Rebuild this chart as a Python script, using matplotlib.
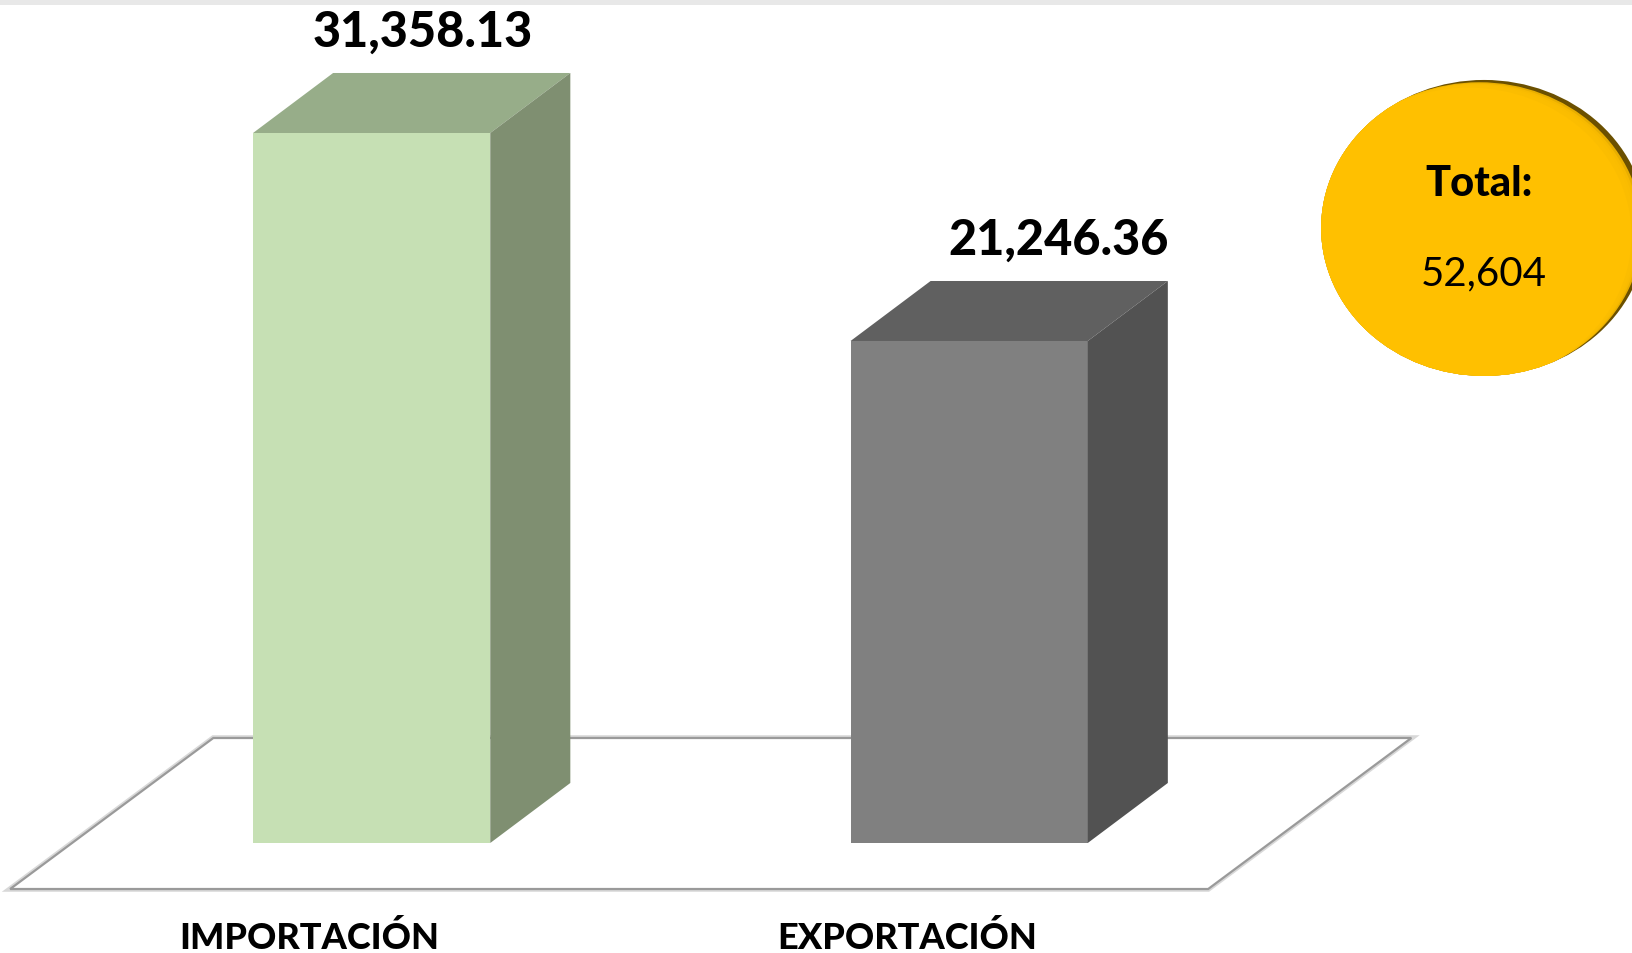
import numpy as np
import matplotlib.pyplot as plt
from matplotlib.patches import Polygon, Ellipse, Rectangle

categories = ['IMPORTACIÓN', 'EXPORTACIÓN']
values = [31358.13, 21246.36]
value_labels = ['31,358.13', '21,246.36']
total_label = '52,604'

front_colors = ['#C6E0B4', '#808080']
top_colors = ['#97AD89', '#606060']
side_colors = ['#7F8F71', '#525252']

plt.rcParams['font.family'] = ['Lato', 'DejaVu Sans']

fig = plt.figure(figsize=(16.33, 9.54), dpi=100)
ax = fig.add_axes([0, 0, 1, 1])
ax.set_xlim(-0.622, 2.111)
ax.set_ylim(-8506, 37872)
ax.axis('off')

# 3d look (data units)
bar_w = 0.397
dx, dy = 0.134, 2917
base = -3158
floor_front, floor_back = -5395, 1946
floor_dx = 0.340
floor_left, floor_right = -0.605, 1.400

# floor plane
floor = Polygon([[floor_left, floor_front], [floor_right, floor_front],
                 [floor_right + floor_dx, floor_back], [floor_left + floor_dx, floor_back]],
                closed=True, facecolor='white', edgecolor='#9a9a9a', lw=1.6, zorder=1)
ax.add_patch(floor)
ax.add_patch(Polygon(floor.get_xy(), closed=True, fill=False, edgecolor='#d8d8d8', lw=4.0, zorder=0.9))

x = np.arange(len(categories))
for i, v in enumerate(values):
    x0, x1 = x[i] - bar_w / 2, x[i] + bar_w / 2
    ax.add_patch(Polygon([[x0, base], [x1, base], [x1, v], [x0, v]],
                         facecolor=front_colors[i], edgecolor='none', zorder=3))
    ax.add_patch(Polygon([[x0, v], [x1, v], [x1 + dx, v + dy], [x0 + dx, v + dy]],
                         facecolor=top_colors[i], edgecolor='none', zorder=3))
    ax.add_patch(Polygon([[x1, base], [x1 + dx, base + dy], [x1 + dx, v + dy], [x1, v]],
                         facecolor=side_colors[i], edgecolor='none', zorder=3))

label_nudge = [0.085, 0.150]
for i, v in enumerate(values):
    ax.text(x[i] + label_nudge[i], v + dy + 1313, value_labels[i], ha='center', va='baseline',
            fontsize=35, fontweight='black', color='black', zorder=5)

# category labels sit on the floor's front edge
shift = floor_dx * (base - floor_front) / (floor_back - floor_front)
for i, c in enumerate(categories):
    ax.text(x[i] - shift, -7728, c, ha='center', va='center',
            fontsize=26, fontweight='black', color='black', zorder=5)

# faint band at the top
ax.add_patch(Rectangle((0, 0.994), 1, 0.006, transform=ax.transAxes,
                       facecolor='#e8e8e8', edgecolor='none', zorder=0.5))

# total bubble with inner shadow on the upper right
cx, cy, ew, eh = 0.9088, 0.760, 0.1996, 0.3103
rim = Ellipse((cx, cy), ew, eh, transform=ax.transAxes,
              facecolor='#6b5000', edgecolor='none', zorder=6)
ax.add_patch(rim)
for k, a in enumerate([0.3, 0.45, 0.65, 0.85]):
    f = 1.0 - 0.2 * k
    e = Ellipse((cx - 0.0075 * f, cy - 0.006 * f), ew, eh, transform=ax.transAxes,
                facecolor='#FFC000', edgecolor='none', alpha=a, zorder=7 + k * 0.1)
    ax.add_patch(e)
    e.set_clip_path(rim)
ax.add_patch(Ellipse((cx - 0.0095, cy - 0.008), ew, eh, transform=ax.transAxes,
                     facecolor='#FFC000', edgecolor='none', zorder=7.5, clip_path=rim))
ax.text(0.906, 0.807, 'Total:', transform=ax.transAxes, ha='center', va='center',
        fontsize=30, fontweight='black', color='black', zorder=8)
ax.text(0.9085, 0.713, total_label, transform=ax.transAxes, ha='center', va='center',
        fontsize=29, color='black', zorder=8)

fig.savefig('out.png', dpi=100)
